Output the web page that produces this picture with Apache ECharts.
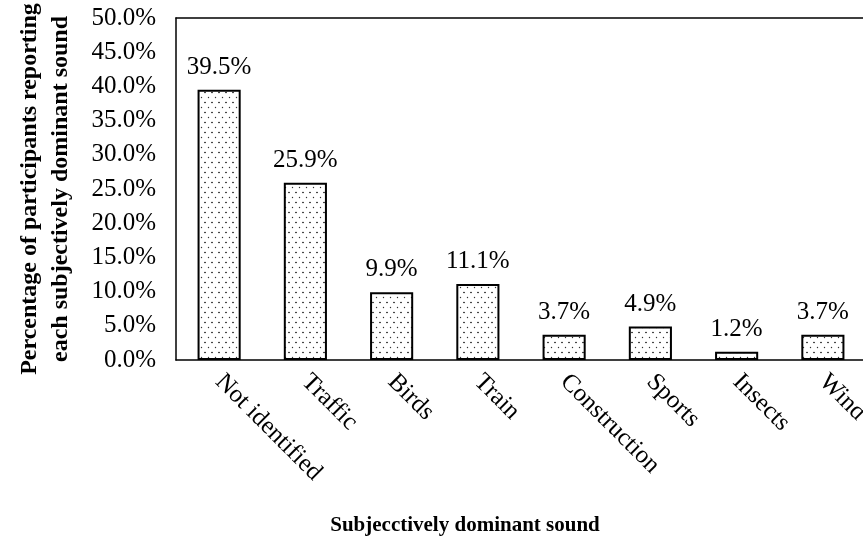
<!DOCTYPE html>
<html>
<head>
<meta charset="utf-8">
<script src="https://cdn.jsdelivr.net/npm/echarts@6/dist/echarts.min.js"></script>
<style>
  html, body { margin: 0; padding: 0; background: #fff; }
  #chart { width: 863px; height: 544px; }
</style>
</head>
<body>
<div id="chart"></div>
<script>
// Share of participants naming each sound as the subjectively dominant one
const categories = ['Not identified', 'Traffic', 'Birds', 'Train', 'Construction', 'Sports', 'Insects', 'Wind'];
const shares = [39.5, 25.9, 9.9, 11.1, 3.7, 4.9, 1.2, 3.7];

// Stippled fill for the bars
function dotPattern() {
  const c = document.createElement('canvas');
  c.width = 7;
  c.height = 10;
  const g = c.getContext('2d');
  g.fillStyle = '#fff';
  g.fillRect(0, 0, 7, 10);
  g.fillStyle = '#000';
  g.beginPath(); g.arc(2, 2.5, 0.8, 0, Math.PI * 2); g.fill();
  g.fillStyle = '#333';
  g.beginPath(); g.arc(5.5, 7.5, 0.7, 0, Math.PI * 2); g.fill();
  return c;
}

const serif = '"Liberation Serif", "Times New Roman", serif';
const chart = echarts.init(document.getElementById('chart'), null, { renderer: 'canvas' });

chart.setOption({
  animation: false,
  backgroundColor: '#fff',
  grid: { left: 176, top: 18, width: 690, bottom: 184, outerBoundsMode: 'none', containLabel: false },
  xAxis: [{
    type: 'category',
    data: categories,
    name: 'Subjecctively dominant sound',
    nameLocation: 'middle',
    nameGap: 155,
    nameTextStyle: { fontFamily: serif, fontWeight: 'bold', fontSize: 21, color: '#000', padding: [0, 0, 0, -112] },
    axisLine: { lineStyle: { color: '#000', width: 1.5 } },
    axisTick: { show: false },
    axisLabel: {
      rotate: -45, interval: 0, margin: 18,
      fontFamily: serif, fontSize: 25, color: '#000'
    }
  }, {
    // frame line along the top of the plot
    type: 'category',
    position: 'top',
    data: categories,
    axisLine: { show: true, lineStyle: { color: '#000', width: 1.5 } },
    axisTick: { show: false },
    axisLabel: { show: false }
  }],
  yAxis: {
    type: 'value',
    min: 0, max: 50, interval: 5,
    name: 'Percentage of participants reporting\neach subjectively dominant sound',
    nameLocation: 'middle',
    nameGap: 100,
    nameTextStyle: { fontFamily: serif, fontWeight: 'bold', fontSize: 24, color: '#000', lineHeight: 31 },
    axisLine: { show: true, lineStyle: { color: '#000', width: 1.5 } },
    axisTick: { show: false },
    splitLine: { show: false },
    axisLabel: {
      margin: 20,
      fontFamily: serif, fontSize: 25, color: '#000',
      formatter: v => v.toFixed(1) + '%'
    }
  },
  series: [{
    type: 'bar',
    xAxisIndex: 0,
    data: shares,
    barWidth: '50%',
    itemStyle: {
      color: { image: dotPattern(), repeat: 'repeat' },
      borderColor: '#000',
      borderWidth: 2
    },
    label: {
      show: true,
      position: 'top',
      distance: 10,
      fontFamily: serif, fontSize: 25, color: '#000',
      formatter: p => p.value.toFixed(1) + '%'
    }
  }]
});
</script>
</body>
</html>
